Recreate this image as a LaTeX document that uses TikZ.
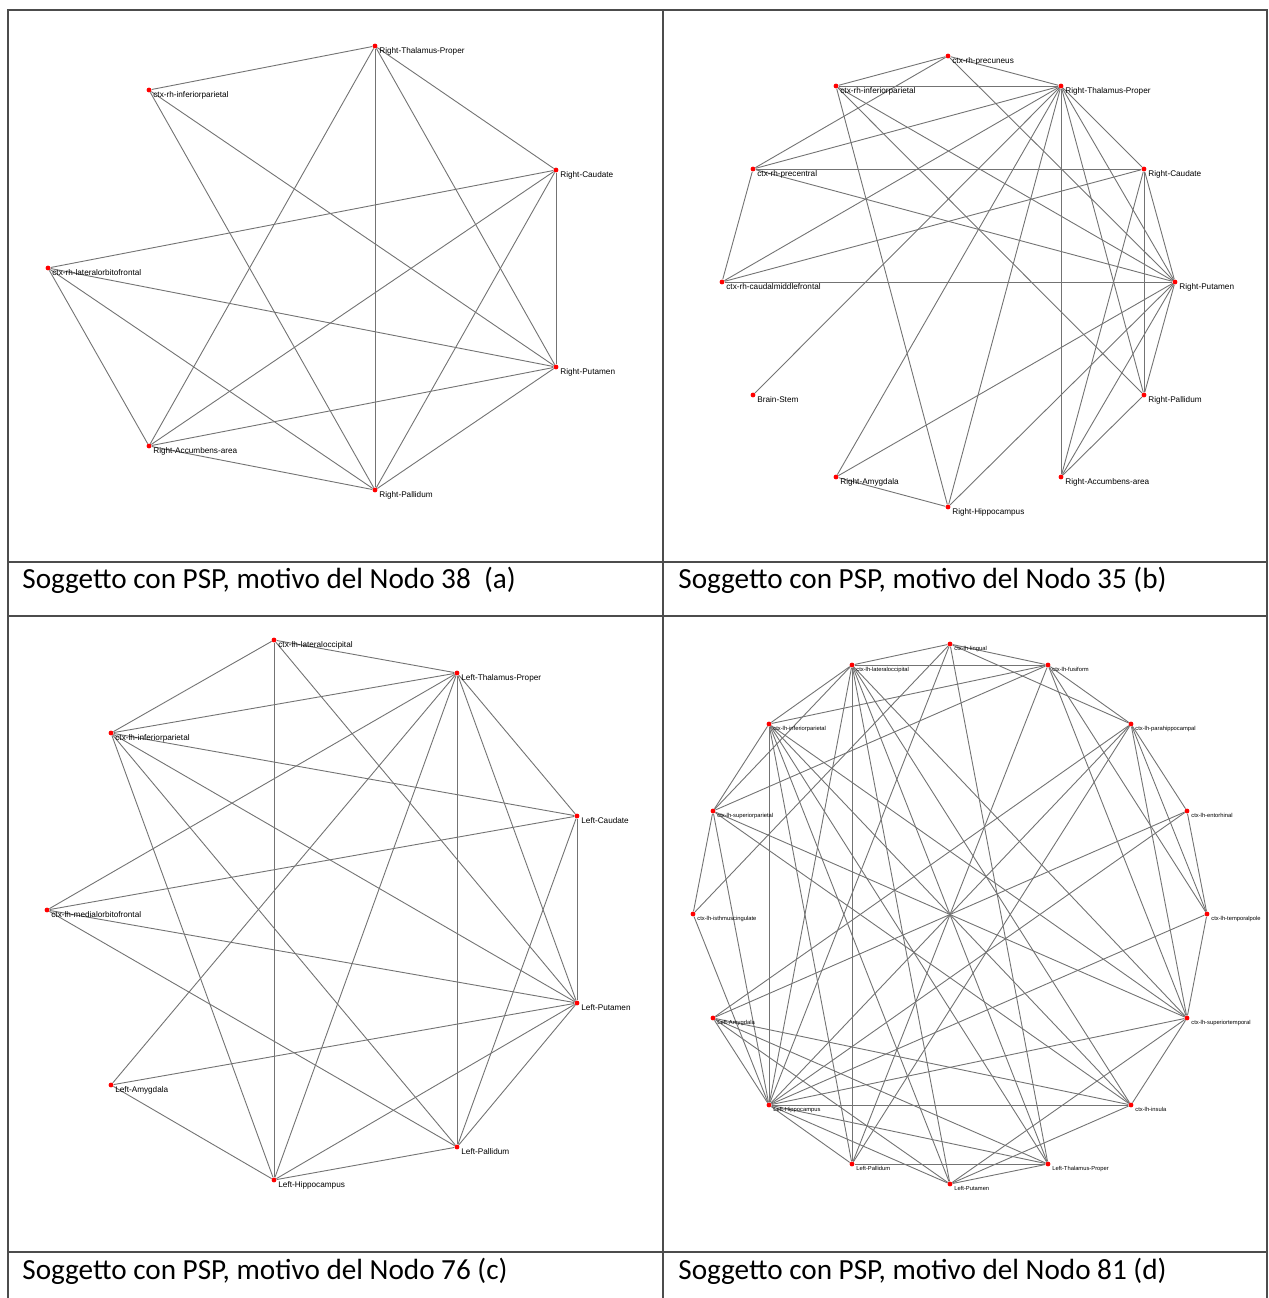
\documentclass[tikz,border=0pt]{standalone}
\usepackage{fontspec}
\setmainfont{Carlito}
\newfontfamily\lblfont{Liberation Sans}
\usetikzlibrary{backgrounds}

\begin{document}
\begin{tikzpicture}[x=0.5pt, y=-0.5pt,
  vtx/.style={circle, fill=red, inner sep=0pt, minimum size=2.4pt},
  lbl/.style={font=\lblfont\fontsize{4.1}{5}\selectfont, inner sep=0pt, anchor=north west, xshift=1pt, yshift=0.2pt},
  slbl/.style={lbl, font=\lblfont\fontsize{2.9}{3.5}\selectfont},
  link/.style={draw=black!55, line width=0.45pt},
  frame/.style={draw=black!70, line width=1pt},
  captxt/.style={anchor=west, font=\fontsize{14.6}{17}\selectfont, inner sep=0pt}]
  \useasboundingbox (0,0) rectangle (1269,1298);

  % table
  \draw[frame] (8,1298) -- (8,10) -- (1267,10) -- (1267,1298);
  \draw[frame] (663,10) -- (663,1298);
  \draw[frame] (8,562) -- (1267,562);
  \draw[frame] (8,616) -- (1267,616);
  \draw[frame] (8,1252) -- (1267,1252);

  \node[captxt] (capA) at (22,580)   {Soggetto con PSP, motivo del Nodo 38\ \ (a)};
  \node[captxt] (capB) at (678,580)  {Soggetto con PSP, motivo del Nodo 35 (b)};
  \node[captxt] (capC) at (22,1271)  {Soggetto con PSP, motivo del Nodo 76 (c)};
  \node[captxt] (capD) at (678,1271) {Soggetto con PSP, motivo del Nodo 81 (d)};

  % (a)
  \node[vtx, label={[lbl]south east:ctx-rh-inferiorparietal}]     (aIP)  at (149,90)  {};
  \node[vtx, label={[lbl]south east:Right-Thalamus-Proper}]       (aTh)  at (375,46)  {};
  \node[vtx, label={[lbl]south east:Right-Caudate}]               (aCa)  at (556,170) {};
  \node[vtx, label={[lbl]south east:ctx-rh-lateralorbitofrontal}] (aLOF) at (48,268)  {};
  \node[vtx, label={[lbl]south east:Right-Putamen}]               (aPu)  at (556,367) {};
  \node[vtx, label={[lbl]south east:Right-Accumbens-area}]        (aAc)  at (149,446) {};
  \node[vtx, label={[lbl]south east:Right-Pallidum}]              (aPa)  at (375,490) {};

  % (b)
  \node[vtx, label={[lbl]south east:ctx-rh-precuneus}]            (bPrc) at (948,56)   {};
  \node[vtx, label={[lbl]south east:ctx-rh-inferiorparietal}]     (bIP)  at (836,86)   {};
  \node[vtx, label={[lbl]south east:Right-Thalamus-Proper}]       (bTh)  at (1061,86)  {};
  \node[vtx, label={[lbl]south east:ctx-rh-precentral}]           (bPrg) at (753,169)  {};
  \node[vtx, label={[lbl]south east:Right-Caudate}]               (bCa)  at (1144,169) {};
  \node[vtx, label={[lbl]south east:ctx-rh-caudalmiddlefrontal}]  (bCMF) at (722,282)  {};
  \node[vtx, label={[lbl]south east:Right-Putamen}]               (bPu)  at (1175,282) {};
  \node[vtx, label={[lbl]south east:Brain-Stem}]                  (bBS)  at (753,395)  {};
  \node[vtx, label={[lbl]south east:Right-Pallidum}]              (bPa)  at (1144,395) {};
  \node[vtx, label={[lbl]south east:Right-Amygdala}]              (bAm)  at (836,477)  {};
  \node[vtx, label={[lbl]south east:Right-Accumbens-area}]        (bAc)  at (1061,477) {};
  \node[vtx, label={[lbl]south east:Right-Hippocampus}]           (bHi)  at (948,507)  {};

  % (c)
  \node[vtx, label={[lbl]south east:ctx-lh-lateraloccipital}]     (cLO)  at (274,640)  {};
  \node[vtx, label={[lbl]south east:Left-Thalamus-Proper}]        (cTh)  at (457,673)  {};
  \node[vtx, label={[lbl]south east:ctx-lh-inferiorparietal}]     (cIP)  at (111,733)  {};
  \node[vtx, label={[lbl]south east:Left-Caudate}]                (cCa)  at (577,816)  {};
  \node[vtx, label={[lbl]south east:ctx-lh-medialorbitofrontal}]  (cMOF) at (47,910)   {};
  \node[vtx, label={[lbl]south east:Left-Putamen}]                (cPu)  at (577,1003) {};
  \node[vtx, label={[lbl]south east:Left-Amygdala}]               (cAm)  at (111,1085) {};
  \node[vtx, label={[lbl]south east:Left-Pallidum}]               (cPa)  at (457,1147) {};
  \node[vtx, label={[lbl]south east:Left-Hippocampus}]            (cHi)  at (274,1180) {};

  % (d)
  \node[vtx, label={[slbl]south east:ctx-lh-lingual}]             (dLi) at (950,644)   {};
  \node[vtx, label={[slbl]south east:ctx-lh-fusiform}]            (dFu) at (1048,665)  {};
  \node[vtx, label={[slbl]south east:ctx-lh-parahippocampal}]     (dPH) at (1131,724)  {};
  \node[vtx, label={[slbl]south east:ctx-lh-entorhinal}]          (dEn) at (1187,811)  {};
  \node[vtx, label={[slbl]south east:ctx-lh-temporalpole}]        (dTP) at (1207,914)  {};
  \node[vtx, label={[slbl]south east:ctx-lh-superiortemporal}]    (dST) at (1187,1018) {};
  \node[vtx, label={[slbl]south east:ctx-lh-insula}]              (dIn) at (1131,1105) {};
  \node[vtx, label={[slbl]south east:Left-Thalamus-Proper}]       (dTh) at (1048,1164) {};
  \node[vtx, label={[slbl]south east:Left-Putamen}]               (dPu) at (950,1184)  {};
  \node[vtx, label={[slbl]south east:Left-Pallidum}]              (dPa) at (852,1164)  {};
  \node[vtx, label={[slbl]south east:Left-Hippocampus}]           (dHi) at (769,1105)  {};
  \node[vtx, label={[slbl]south east:Left-Amygdala}]              (dAm) at (713,1018)  {};
  \node[vtx, label={[slbl]south east:ctx-lh-isthmuscingulate}]    (dIC) at (693,914)   {};
  \node[vtx, label={[slbl]south east:ctx-lh-superiorparietal}]    (dSP) at (713,811)   {};
  \node[vtx, label={[slbl]south east:ctx-lh-inferiorparietal}]    (dIP) at (769,724)   {};
  \node[vtx, label={[slbl]south east:ctx-lh-lateraloccipital}]    (dLO) at (852,665)   {};

  \begin{scope}[on background layer]
    % links (a)
    \foreach \u/\v in {aIP/aTh, aIP/aPa, aIP/aPu, aTh/aCa, aTh/aPa, aTh/aPu, aTh/aAc,
        aCa/aLOF, aCa/aPu, aCa/aAc, aCa/aPa, aLOF/aPu, aLOF/aAc, aLOF/aPa,
        aPu/aAc, aPu/aPa, aAc/aPa}
      \draw[link] (\u) -- (\v);
    % links (b)
    \foreach \u/\v in {bPrc/bIP, bPrc/bPrg, bPrc/bTh, bPrc/bPu, bIP/bTh, bIP/bHi, bIP/bPa, bIP/bPu,
        bTh/bPrg, bTh/bCMF, bTh/bBS, bTh/bAm, bTh/bHi, bTh/bAc, bTh/bPa, bTh/bPu, bTh/bCa,
        bPrg/bCa, bPrg/bCMF, bPrg/bPu, bCMF/bPu, bCMF/bCa, bCa/bPa, bCa/bPu, bCa/bAc,
        bPu/bPa, bPu/bAc, bPu/bAm, bPu/bHi, bPa/bAc, bAm/bHi}
      \draw[link] (\u) -- (\v);
    % links (c)
    \foreach \u/\v in {cLO/cIP, cLO/cTh, cLO/cHi, cLO/cPu, cIP/cTh, cIP/cCa, cIP/cHi, cIP/cPa, cIP/cPu,
        cTh/cMOF, cTh/cAm, cTh/cHi, cTh/cPa, cTh/cCa, cTh/cPu, cCa/cMOF, cCa/cPu, cCa/cPa,
        cMOF/cPu, cMOF/cPa, cAm/cPu, cAm/cHi, cHi/cPu, cHi/cPa, cPu/cPa}
      \draw[link] (\u) -- (\v);
    % links (d)
    \foreach \u/\v in {dLi/dLO, dLi/dFu, dLi/dPH, dLi/dHi, dLi/dIC, dLi/dTh,
        dLO/dFu, dLO/dIP, dLO/dSP, dLO/dPa, dLO/dPu, dLO/dTh, dLO/dIn, dLO/dST, dLO/dHi,
        dFu/dIP, dFu/dSP, dFu/dPH, dFu/dST, dFu/dTP, dFu/dPa,
        dPH/dEn, dPH/dTP, dPH/dST, dPH/dAm, dPH/dPa, dPH/dHi,
        dEn/dTP, dEn/dAm, dEn/dHi, dTP/dST, dTP/dHi,
        dST/dHi, dST/dIn, dST/dPu, dST/dSP, dST/dIP,
        dIn/dHi, dIn/dAm, dIn/dSP, dIn/dPu, dIn/dIP,
        dTh/dPa, dTh/dHi, dTh/dAm, dTh/dPu, dTh/dIP,
        dPu/dHi, dPu/dAm, dPu/dIP, dPa/dHi, dPa/dIP,
        dHi/dAm, dHi/dIC, dHi/dSP, dHi/dIP, dIC/dSP, dSP/dIP}
      \draw[link] (\u) -- (\v);
  \end{scope}
\end{tikzpicture}
\end{document}
